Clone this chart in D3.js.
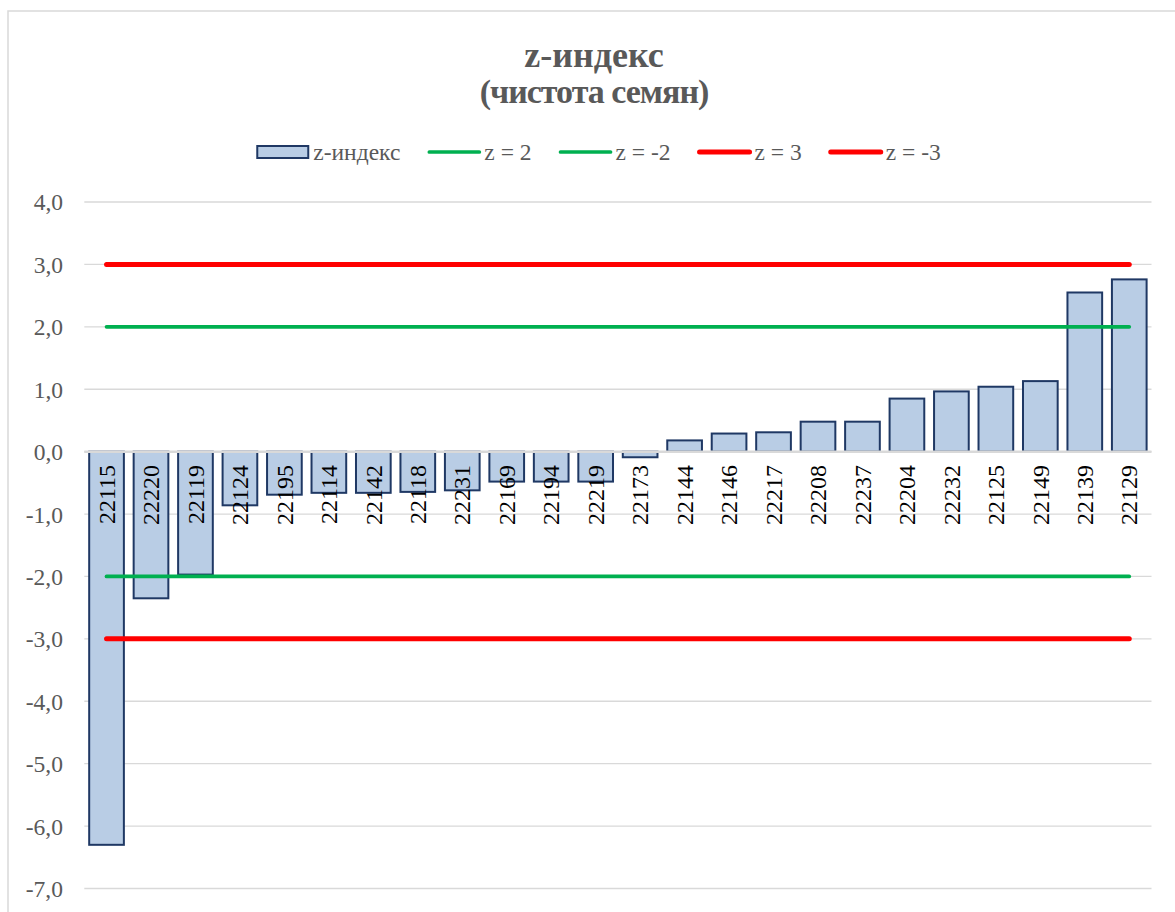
<!DOCTYPE html>
<meta charset="utf-8">
<head>
	<title>z-индекс (чистота семян)</title>
	<script type="text/javascript" src="https://d3js.org/d3.v7.min.js"></script>
</head>
	<style>
		body { margin: 0; background: #fff; }
		.grid line { stroke: #d9d9d9; stroke-width: 1.3; }
		.bar { fill: #b9cde5; stroke: #1f3864; stroke-width: 2; }
	</style>
<body>
	<div id="chart"></div>
	<script>

		// data
		var categories = ["22115","22220","22119","22124","22195","22114","22142","22118","22231","22169","22194","22219",
		                  "22173","22144","22146","22217","22208","22237","22204","22232","22125","22149","22139","22129"];
		var zValues = [-6.30, -2.35, -1.97, -0.86, -0.69, -0.66, -0.66, -0.645, -0.62, -0.48, -0.48, -0.48,
		               -0.09, 0.18, 0.29, 0.31, 0.48, 0.48, 0.85, 0.965, 1.04, 1.13, 2.55, 2.76];
		var yTicks = [4, 3, 2, 1, 0, -1, -2, -3, -4, -5, -6, -7];
		var refNames = ["z = 2", "z = -2", "z = 3", "z = -3"];
		var refValues = [2, -2, 3, -3];
		var refColors = ["#00b050", "#00b050", "#ff0000", "#ff0000"];
		var refWidths = [3.7, 3.7, 5, 5];

		var w = 1175;
		var h = 912;
		var left = 84.3, right = 1151.5;
		var font = "'Liberation Serif'";

		var svg = d3.select("#chart").append("svg")
		            .attr("width", w).attr("height", h);

		// chart area border
		svg.append("rect")
		   .attr("x", 8).attr("y", 11)
		   .attr("width", w + 20).attr("height", h + 20)
		   .attr("fill", "none").attr("stroke", "#d9d9d9").attr("stroke-width", 1.5);

		var x = d3.scaleBand().domain(categories).range([left, right]).paddingInner(0.22).paddingOuter(0.11);
		var y = d3.scaleLinear().domain([-7, 4]).range([888.5, 202]);

		var locale = d3.formatLocale({decimal: ",", thousands: " ", grouping: [3], currency: ["", ""], minus: "-"});
		var fmt = locale.format(".1f");

		// gridlines
		svg.append("g").attr("class", "grid")
		   .selectAll("line").data(yTicks).enter().append("line")
		   .attr("x1", left).attr("x2", right)
		   .attr("y1", d => y(d)).attr("y2", d => y(d));

		// y tick labels
		svg.append("g").selectAll("text").data(yTicks).enter().append("text")
		   .style("font-family", font).style("font-size", "23.5px")
		   .attr("fill", "#595959")
		   .attr("x", 63).attr("y", d => y(d))
		   .attr("dy", "0.36em")
		   .attr("text-anchor", "end")
		   .text(d => fmt(d));

		// bars
		svg.append("g").selectAll("rect").data(zValues).enter().append("rect")
		   .attr("class", "bar")
		   .attr("x", (d, i) => x(categories[i]))
		   .attr("width", x.bandwidth())
		   .attr("y", d => y(Math.max(0, d)))
		   .attr("height", d => Math.abs(y(d) - y(0)));

		// horizontal axis line
		svg.append("line")
		   .attr("x1", left).attr("x2", right)
		   .attr("y1", y(0)).attr("y2", y(0))
		   .attr("stroke", "#d9d9d9").attr("stroke-width", 2.5);

		// reference lines z = ±2, ±3
		var x0 = x(categories[0]) + x.bandwidth() / 2;
		var x1 = x(categories[categories.length - 1]) + x.bandwidth() / 2;
		svg.append("g").selectAll("line").data(refValues).enter().append("line")
		   .attr("x1", x0).attr("x2", x1)
		   .attr("y1", d => y(d)).attr("y2", d => y(d))
		   .attr("stroke", (d, i) => refColors[i])
		   .attr("stroke-width", (d, i) => refWidths[i])
		   .attr("stroke-linecap", "round");

		// category labels, rotated
		svg.append("g").selectAll("text").data(categories).enter().append("text")
		   .style("font-family", font).style("font-size", "24px")
		   .attr("fill", "#000")
		   .attr("transform", d => "translate(" + (x(d) + x.bandwidth() / 2) + ",465) rotate(-90)")
		   .attr("dy", "0.34em")
		   .attr("text-anchor", "end")
		   .text(d => d);

		// title
		svg.append("text")
		   .style("font-family", font).style("font-size", "36px").style("font-weight", "bold")
		   .attr("x", 594).attr("y", 67)
		   .attr("text-anchor", "middle")
		   .attr("fill", "#595959")
		   .text("z-индекс");
		svg.append("text")
		   .style("font-family", font).style("font-size", "34px").style("font-weight", "bold")
		   .style("letter-spacing", "-1px")
		   .attr("x", 594).attr("y", 103)
		   .attr("text-anchor", "middle")
		   .attr("fill", "#595959")
		   .text("(чистота семян)");

		// legend
		var legend = svg.append("g");
		var legendNames = ["z-индекс"].concat(refNames);
		var cx = 0;
		legendNames.forEach(function(name, i) {
			var g = legend.append("g").attr("transform", "translate(" + cx + ",0)");
			if (i == 0) {
				g.append("rect").attr("class", "bar")
				 .attr("x", 1).attr("y", -6).attr("width", 51).attr("height", 12);
			} else {
				g.append("line").attr("x1", 2).attr("x2", 52).attr("y1", 0).attr("y2", 0)
				 .attr("stroke", refColors[i - 1]).attr("stroke-width", refWidths[i - 1])
				 .attr("stroke-linecap", "round");
			}
			var t = g.append("text")
			         .style("font-family", font).style("font-size", "23.5px")
			         .attr("fill", "#595959")
			         .attr("x", 57).attr("y", 7.5).text(name);
			cx += 57 + t.node().getComputedTextLength() + 27;
		});
		var total = cx - 27;
		legend.attr("transform", "translate(" + (598.5 - total / 2) + ",152)");

	</script>
</body>
</html>
